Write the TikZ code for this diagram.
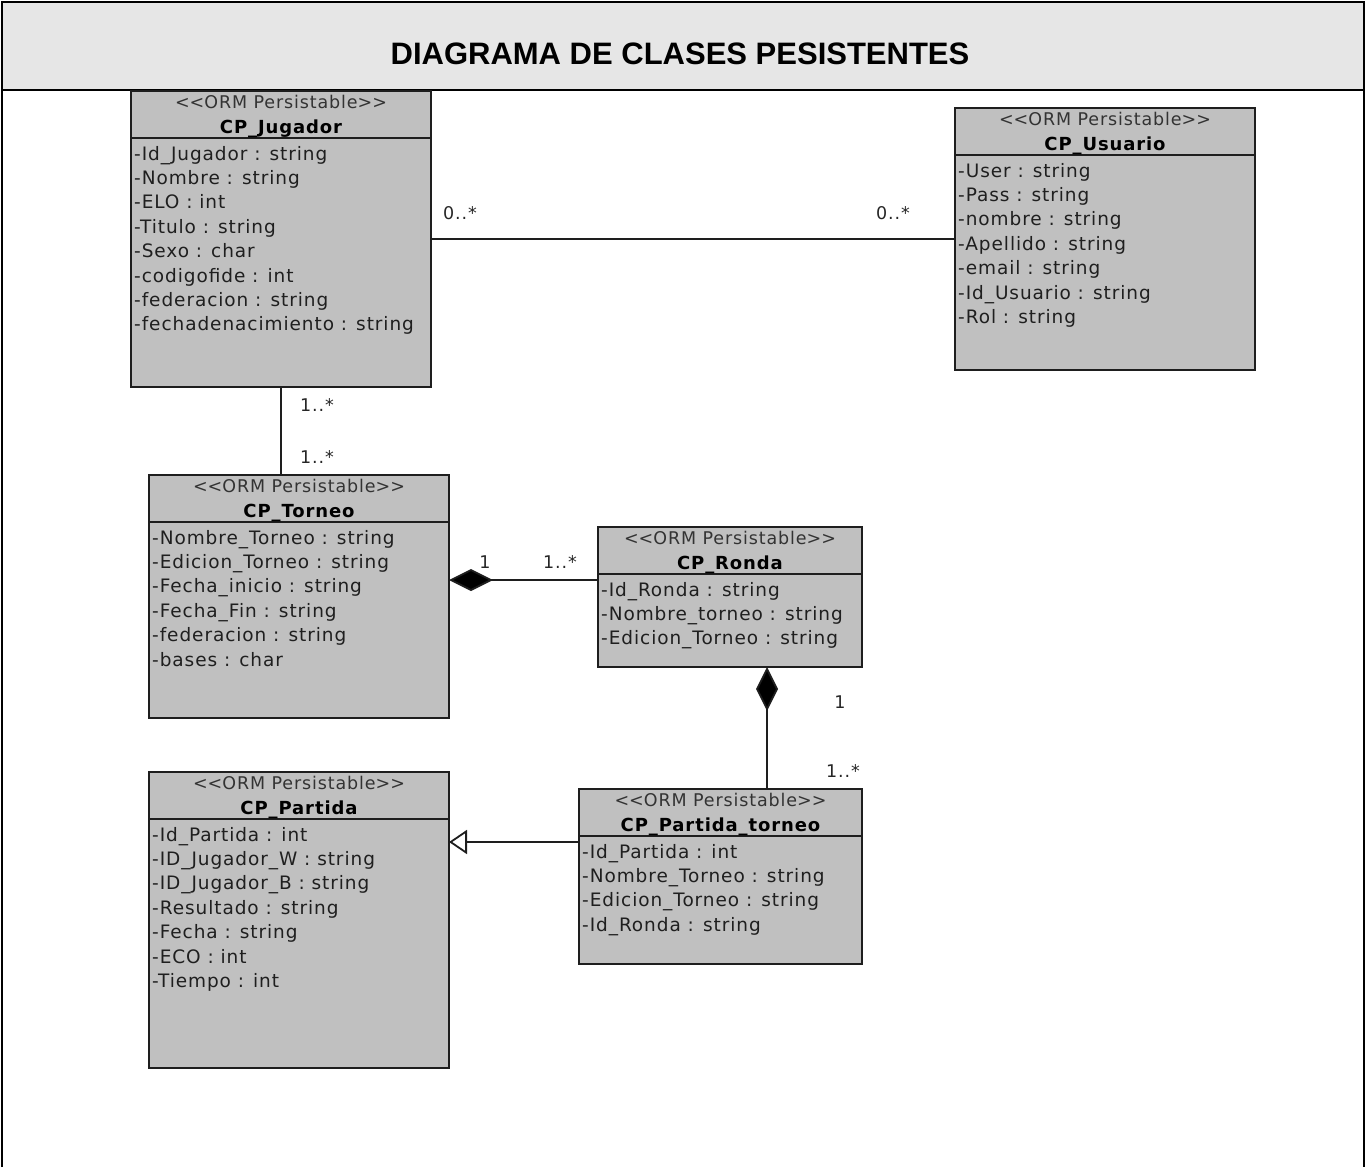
\documentclass[tikz,border=0pt]{standalone}
\usepackage{fontspec}
\setmainfont{DejaVu Sans}
\newfontfamily\titlefont{Liberation Sans}
\newfontfamily\umlfont[LetterSpace=5]{DejaVu Sans}
\usetikzlibrary{arrows.meta,calc}

\definecolor{boxfill}{HTML}{C0C0C0}
\definecolor{bandfill}{HTML}{E6E6E6}
\definecolor{edgecol}{HTML}{1E1E1E}
\definecolor{stereocol}{HTML}{333333}

\tikzset{
  classbox/.style={draw=edgecol, line width=1.8pt, fill=boxfill, rectangle,
    inner sep=0pt, outer sep=0pt, anchor=north west},
  stereotype/.style={font=\umlfont\fontsize{17.5}{20}\selectfont, text=stereocol,
    inner sep=0pt, anchor=base},
  classname/.style={font=\umlfont\bfseries\fontsize{18}{21}\selectfont,
    inner sep=0pt, anchor=base},
  attr/.style={font=\umlfont\fontsize{18.5}{21}\selectfont, text=black!88,
    inner sep=0pt, anchor=base west},
  mult/.style={font=\umlfont\fontsize{17.5}{20}\selectfont, text=black!85, inner sep=0pt},
  link/.style={draw=edgecol, line width=1.8pt},
  composition/.style={link, {Diamond[length=44pt,width=22pt,fill=black]}-},
  generalization/.style={link, -{Triangle[open,length=18pt,width=24pt,fill=white]}},
}

% stereotype text; separate boxes keep << and >> as they are
\newcommand\ormstereo{\mbox{<}\mbox{<}ORM Persistable\mbox{>}\mbox{>}}

% #1 name, #2 x, #3 y (top left), #4 width, #5 height, #6 class name, #7 attributes
\newcommand\umlclass[7]{%
  \node[classbox, minimum width=#4pt, minimum height=#5pt] (#1) at (#2,#3) {};
  \draw[link] ($(#1.north west)+(0,47)$) -- ($(#1.north east)+(0,47)$);
  \node[stereotype] (#1-st) at ($(#1.north)+(0,17)$) {\ormstereo};
  \node[classname] (#1-nm) at ($(#1.north)+(0,42)$) {#6};
  \foreach \a [count=\i from 0] in {#7} {
    \node[attr] (#1-a\i) at ($(#1.north west)+(3,69+24.4*\i)$) {\a};
  }
}

\begin{document}
\begin{tikzpicture}[x=1pt,y=-1pt]
\useasboundingbox (0,0) rectangle (1367,1167);

% frame and title band
\fill[bandfill] (2,2) rectangle (1364,90);
\draw[line width=2pt, black] (2,1167) -- (2,2) -- (1364,2) -- (1364,1167);
\draw[line width=2pt, black] (2,90) -- (1364,90);
\node[font=\titlefont\bfseries\fontsize{31}{36}\selectfont, inner sep=0pt] (title)
  at (680,54) {DIAGRAMA DE CLASES PESISTENTES};

% classes
\umlclass{jug}{131}{91}{300}{296}{CP\_Jugador}{%
  -Id\_Jugador : string, -Nombre : string, -ELO : int, -Titulo : string,
  -Sexo : char, -codigofide : int, -federacion : string,
  -fechadenacimiento : string}
\umlclass{usu}{955}{108}{300}{262}{CP\_Usuario}{%
  -User : string, -Pass : string, -nombre : string, -Apellido : string,
  -email : string, -Id\_Usuario : string, -Rol : string}
\umlclass{tor}{149}{475}{300}{243}{CP\_Torneo}{%
  -Nombre\_Torneo : string, -Edicion\_Torneo : string, -Fecha\_inicio : string,
  -Fecha\_Fin : string, -federacion : string, -bases : char}
\umlclass{ron}{598}{527}{264}{140}{CP\_Ronda}{%
  -Id\_Ronda : string, -Nombre\_torneo : string, -Edicion\_Torneo : string}
\umlclass{par}{149}{772}{300}{296}{CP\_Partida}{%
  -Id\_Partida : int, -ID\_Jugador\_W : string, -ID\_Jugador\_B : string,
  -Resultado : string, -Fecha : string, -ECO : int, -Tiempo : int}
\umlclass{pt}{579}{789}{283}{175}{CP\_Partida\_torneo}{%
  -Id\_Partida : int, -Nombre\_Torneo : string, -Edicion\_Torneo : string,
  -Id\_Ronda : string}

% connector anchor points
\coordinate (rj) at ($(ron.west)+(0,-17)$);
\coordinate (rp) at ($(ron.south)+(37,0)$);
\coordinate (pg) at ($(pt.west)+(0,-34.5)$);

% associations
\draw[link] (jug.east) -- (jug.east -| usu.west);
\draw[link] (jug.south) -- (jug.south |- tor.north);
\draw[composition] (tor.east |- rj) -- (rj);
\draw[composition] (rp) -- (rp |- pt.north);
\draw[generalization] (pg) -- (pg -| par.east);

% multiplicities
\node[mult] (m1) at (460,213) {0..*};
\node[mult] (m2) at (893,213) {0..*};
\node[mult] (m3) at (317,405) {1..*};
\node[mult] (m4) at (317,457) {1..*};
\node[mult] (m5) at (485,562) {1};
\node[mult] (m6) at (560,562) {1..*};
\node[mult] (m7) at (840,702) {1};
\node[mult] (m8) at (843,771) {1..*};
\end{tikzpicture}
\end{document}
